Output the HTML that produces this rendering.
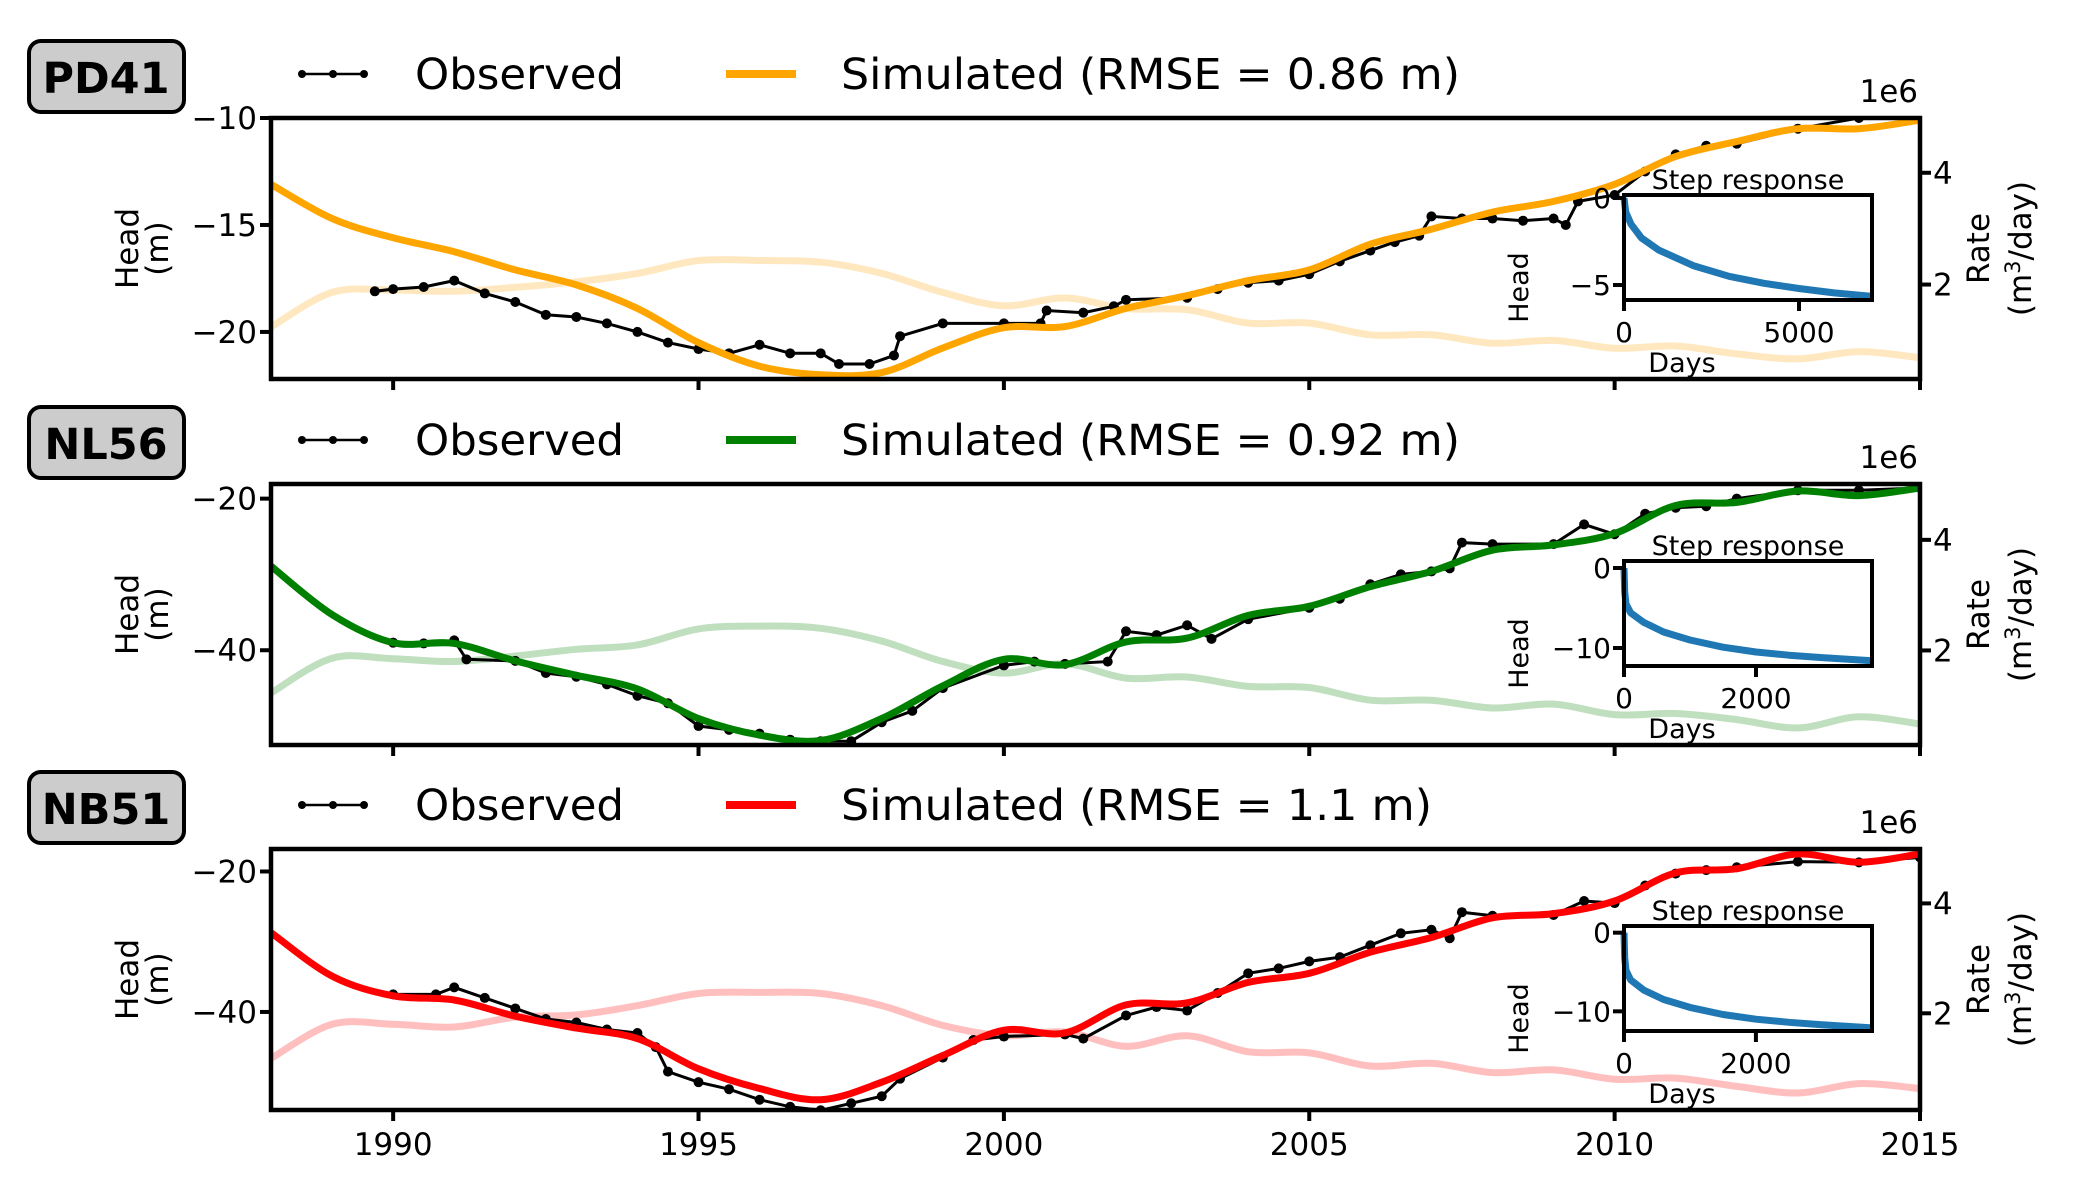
<!DOCTYPE html>
<html><head><meta charset="utf-8">
<style>
html,body{margin:0;padding:0;background:#fff;}
svg{display:block;font-family:"DejaVu Sans","Liberation Sans",sans-serif;}
</style></head>
<body>
<svg id="fig" xmlns="http://www.w3.org/2000/svg" width="2083" height="1204" viewBox="0 0 2083 1204"></svg>
<script>
// ---------- data ----------
const years = [1988,1989,1990,1991,1992,1993,1994,1995,1996,1997,1998,1999,2000,2001,2002,2003,2004,2005,2006,2007,2008,2009,2010,2011,2012,2013,2014,2015];
const xTicks = [1990,1995,2000,2005,2010,2015];

const simPD41 = [-13.1,-14.7,-15.6,-16.25,-17.1,-17.8,-18.9,-20.5,-21.6,-22.0,-21.9,-20.75,-19.8,-19.75,-18.9,-18.3,-17.6,-17.1,-15.9,-15.2,-14.4,-13.9,-13.1,-11.8,-11.1,-10.5,-10.5,-10.1];
const ratePD41 = [1.24,1.86,1.9,1.88,1.95,2.05,2.2,2.43,2.43,2.4,2.2,1.86,1.62,1.76,1.57,1.55,1.31,1.31,1.1,1.1,0.95,1.0,0.86,0.9,0.76,0.67,0.8,0.69];
const obsYearsPD41 = [1989.7,1990,1990.5,1991,1991.5,1992,1992.5,1993,1993.5,1994,1994.5,1995,1995.5,1996,1996.5,1997,1997.3,1997.8,1998.2,1998.3,1999,2000,2000.6,2000.7,2001.3,2001.8,2002,2003,2003.5,2004,2004.5,2005,2005.5,2006,2006.4,2006.8,2007,2007.5,2008,2008.5,2009,2009.2,2009.4,2010,2010.5,2011,2011.5,2012,2013,2014,2015];
const obsPD41 = [-18.1,-18.0,-17.9,-17.6,-18.2,-18.6,-19.2,-19.3,-19.6,-20.0,-20.5,-20.8,-21.0,-20.6,-21.0,-21.0,-21.5,-21.5,-21.1,-20.2,-19.6,-19.6,-19.6,-19.0,-19.1,-18.8,-18.5,-18.4,-18.0,-17.7,-17.6,-17.3,-16.7,-16.2,-15.8,-15.5,-14.6,-14.7,-14.7,-14.8,-14.7,-15.0,-13.9,-13.6,-12.5,-11.7,-11.3,-11.2,-10.5,-10.0,-10.0];
const stepDaysPD41 = [0,50,200,500,1000,2000,3000,4000,5000,6000,7086];
const stepPD41 = [0,-0.8,-1.5,-2.3,-3.0,-3.9,-4.5,-4.9,-5.2,-5.45,-5.65];

const simNL56 = [-28.9,-35.3,-39,-39.1,-41.4,-43.3,-45.1,-49,-51.2,-51.9,-49,-44.7,-41.2,-41.9,-38.9,-38.4,-35.4,-34.2,-31.6,-29.6,-26.8,-26.1,-24.6,-20.9,-20.5,-19,-19.6,-18.6];
const rateNL56 = [1.23,1.86,1.85,1.8,1.9,2.02,2.1,2.39,2.44,2.4,2.17,1.8,1.59,1.76,1.5,1.52,1.35,1.33,1.1,1.1,0.96,1.03,0.84,0.86,0.75,0.6,0.8,0.67];
const obsYearsNL56 = [1990,1990.5,1991,1991.2,1992,1992.5,1993,1993.5,1994,1994.5,1995,1995.5,1996,1996.5,1997,1997.5,1998,1998.5,1999,2000,2000.5,2001,2001.7,2002,2002.5,2003,2003.4,2004,2005,2005.5,2006,2006.5,2007,2007.3,2007.5,2008,2009,2009.5,2010,2010.5,2011,2011.5,2012,2013,2014,2015];
const obsNL56 = [-39,-39.1,-38.7,-41.2,-41.4,-43,-43.5,-44.5,-46,-47,-50,-50.5,-51,-51.8,-52,-52,-49.5,-48,-45,-42,-41.5,-41.8,-41.5,-37.5,-38,-36.7,-38.5,-35.9,-34.4,-33.2,-31.3,-30,-29.6,-29.2,-25.8,-26,-26,-23.4,-24.7,-22,-21.2,-21,-20,-18.9,-18.9,-18.6];
const stepDaysNL56 = [0,10,30,100,300,600,1000,1500,2000,2500,3000,3758];
const stepNL56 = [0,-3,-4.5,-5.6,-6.8,-8.0,-9.0,-9.9,-10.5,-10.9,-11.2,-11.6];

const simNB51 = [-28.7,-34.9,-37.7,-38.3,-40.6,-42.3,-43.8,-48.1,-50.9,-52.5,-50,-46.2,-42.6,-43,-39,-38.7,-35.8,-34.5,-31.5,-29.4,-26.6,-26,-24.2,-20.2,-19.6,-17.5,-18.7,-17.5];
const rateNB51 = [1.18,1.8,1.8,1.75,1.93,1.97,2.14,2.36,2.38,2.36,2.14,1.78,1.59,1.66,1.4,1.59,1.3,1.28,1.04,1.09,0.92,0.97,0.8,0.82,0.67,0.55,0.72,0.63];
const obsYearsNB51 = [1990,1990.7,1991,1991.5,1992,1992.5,1993,1993.5,1994,1994.3,1994.5,1995,1995.5,1996,1996.5,1997,1997.5,1998,1998.3,1999,1999.5,2000,2001,2001.3,2002,2002.5,2003,2003.5,2004,2004.5,2005,2005.5,2006,2006.5,2007,2007.3,2007.5,2008,2009,2009.5,2010,2010.5,2011,2011.5,2012,2013,2014,2015];
const obsNB51 = [-37.5,-37.5,-36.5,-38,-39.5,-41,-41.5,-42.5,-43,-45,-48.5,-50,-51,-52.5,-53.5,-54,-53,-52,-49.5,-46.5,-44,-43.5,-43.2,-43.8,-40.5,-39.3,-39.8,-37.3,-34.5,-33.8,-32.8,-32.2,-30.5,-28.8,-28.3,-29.5,-25.8,-26.3,-26.2,-24.2,-24.5,-22,-20.3,-19.8,-19.4,-18.6,-18.7,-18];
const stepDaysNB51 = [0,10,30,100,300,600,1000,1500,2000,2500,3000,3760];
const stepNB51 = [0,-3.2,-4.8,-6.0,-7.3,-8.5,-9.5,-10.4,-11.0,-11.4,-11.7,-12.1];

const panels = [
 {name:'PD41', color:'#FFA500', label:'Simulated (RMSE = 0.86 m)', simLen:619, top:118, yMin:-22.2, yMax:-10, yTicks:[-10,-15,-20], sim:simPD41, rate:ratePD41, oy:obsYearsPD41, ov:obsPD41, sd:stepDaysPD41, sv:stepPD41, iyMin:-5.86, iyMax:0.17, iyTicks:[0,-5], ixMax:7086, ixTicks:[0,5000], rMin:0.31, rMax:4.98},
 {name:'NL56', color:'#008000', label:'Simulated (RMSE = 0.92 m)', simLen:619, top:484, yMin:-52.5, yMax:-18.07, yTicks:[-20,-40], sim:simNL56, rate:rateNL56, oy:obsYearsNL56, ov:obsNL56, sd:stepDaysNL56, sv:stepNL56, iyMin:-12.25, iyMax:0.875, iyTicks:[0,-10], ixMax:3758, ixTicks:[0,2000], rMin:0.29, rMax:5.01},
 {name:'NB51', color:'#FF0000', label:'Simulated (RMSE = 1.1 m)', simLen:591, top:849, yMin:-53.96, yMax:-16.8, yTicks:[-20,-40], sim:simNB51, rate:rateNB51, oy:obsYearsNB51, ov:obsNB51, sd:stepDaysNB51, sv:stepNB51, iyMin:-12.5, iyMax:0.85, iyTicks:[0,-10], ixMax:3760, ixTicks:[0,2000], rMin:0.24, rMax:4.99}
];

// ---------- drawing ----------
const NS='http://www.w3.org/2000/svg';
const svg=document.getElementById('fig');
function el(tag, attrs, parent, text){
  const e=document.createElementNS(NS,tag);
  for(const k in attrs) e.setAttribute(k,attrs[k]);
  if(text!==undefined) e.textContent=text;
  (parent||svg).appendChild(e);
  return e;
}
const L=271, R=1920, H=261;
const X0=1988, X1=2015;
const FS=31;
function xs(v){return L+(v-X0)/(X1-X0)*(R-L);}
function smoothPath(pts){
  let d='M'+pts[0][0].toFixed(1)+','+pts[0][1].toFixed(1);
  for(let i=0;i<pts.length-1;i++){
    const p0=pts[Math.max(0,i-1)],p1=pts[i],p2=pts[i+1],p3=pts[Math.min(pts.length-1,i+2)];
    const c1=[p1[0]+(p2[0]-p0[0])/6,p1[1]+(p2[1]-p0[1])/6];
    const c2=[p2[0]-(p3[0]-p1[0])/6,p2[1]-(p3[1]-p1[1])/6];
    d+='C'+c1[0].toFixed(1)+','+c1[1].toFixed(1)+' '+c2[0].toFixed(1)+','+c2[1].toFixed(1)+' '+p2[0].toFixed(1)+','+p2[1].toFixed(1);
  }
  return d;
}

panels.forEach((p,pi)=>{
  const T=p.top, B=T+H;
  const g=el('g',{});
  
  
  const ys=v=>B-(v-p.yMin)/(p.yMax-p.yMin)*H;
  const rs=v=>B-(v-p.rMin)/(p.rMax-p.rMin)*H;

  const bx=el('rect',{x:29,y:T-77,width:155,height:71,rx:12,ry:12,fill:'#cccccc',stroke:'#000','stroke-width':4},g);
  
  
  const bt=el('text',{x:106,y:T-25,'text-anchor':'middle','font-size':43,'font-weight':'bold'},g,p.name);
  
  

  const lg=el('g',{},g);
  
  
  const ly=T-44;
  el('line',{x1:302,y1:ly,x2:364,y2:ly,stroke:'#000','stroke-width':2.5},lg);
  [302,333,364].forEach(cx=>el('circle',{cx:cx,cy:ly,r:4,fill:'#000'},lg));
  const lo=el('text',{x:415,y:T-29,'font-size':43,textLength:209,lengthAdjust:'spacingAndGlyphs'},lg,'Observed');
  
  
  el('line',{x1:726,y1:ly,x2:796,y2:ly,stroke:p.color,'stroke-width':8},lg);
  const ls=el('text',{x:841,y:T-29,'font-size':43,textLength:p.simLen,lengthAdjust:'spacingAndGlyphs'},lg,p.label);
  
  

  const cp=el('clipPath',{id:'clip'+pi},g);
  el('rect',{x:L,y:T,width:R-L,height:H},cp);
  const plot=el('g',{'clip-path':'url(#clip'+pi+')'},g);

  const rl=el('path',{d:smoothPath(years.map((y,i)=>[xs(y),rs(p.rate[i])])),fill:'none',stroke:p.color,'stroke-opacity':0.25,'stroke-width':7},plot);
  
  
  const op=el('polyline',{points:p.oy.map((y,i)=>xs(y).toFixed(1)+','+ys(p.ov[i]).toFixed(1)).join(' '),fill:'none',stroke:'#000','stroke-width':3},plot);
  
  
  p.oy.forEach((y,i)=>{
    const c=el('circle',{cx:xs(y),cy:ys(p.ov[i]),r:5,fill:'#000'},plot);
    
    
  });
  const sl=el('path',{d:smoothPath(years.map((y,i)=>[xs(y),ys(p.sim[i])])),fill:'none',stroke:p.color,'stroke-width':7},plot);
  
  

  const fr=el('rect',{x:L,y:T,width:R-L,height:H,fill:'none',stroke:'#000','stroke-width':4.5},g);
  
  

  p.yTicks.forEach(t=>{
    const y=ys(t);
    el('line',{x1:L-11,y1:y,x2:L,y2:y,stroke:'#000','stroke-width':4},g);
    const tl=el('text',{x:L-14,y:y+11,'text-anchor':'end','font-size':FS},g,'\u2212'+Math.abs(t));
    
    
  });
  const cy=T+H/2;
  const yl=el('text',{transform:'translate(138,'+cy+') rotate(-90)','text-anchor':'middle','font-size':FS},g,'Head');
  
  
  el('text',{transform:'translate(168,'+cy+') rotate(-90)','text-anchor':'middle','font-size':FS},g,'(m)');

  [2,4].forEach(t=>{
    const y=rs(t);
    el('line',{x1:R,y1:y,x2:R+11,y2:y,stroke:'#000','stroke-width':4},g);
    const tl=el('text',{x:R+13,y:y+11,'font-size':FS},g,String(t));
    
    
  });
  const e6=el('text',{x:1918,y:T-16,'text-anchor':'end','font-size':FS},g,'1e6');
  
  
  const rt=el('text',{transform:'translate(1989,'+cy+') rotate(-90)','text-anchor':'middle','font-size':FS},g,'Rate');
  
  
  const rt2=el('text',{transform:'translate(2031,'+cy+') rotate(-90)','text-anchor':'middle','font-size':FS},g);
  el('tspan',{},rt2,'(m');
  el('tspan',{dy:-11,'font-size':21},rt2,'3');
  el('tspan',{dy:11},rt2,'/day)');

  const IL=1624, IR=1872, IT=T+77, IB=T+182;
  const ig=el('g',{},g);
  
  
  const ixs=v=>IL+v/p.ixMax*(IR-IL);
  const iys=v=>IB-(v-p.iyMin)/(p.iyMax-p.iyMin)*(IB-IT);
  el('rect',{x:IL,y:IT,width:IR-IL,height:IB-IT,fill:'#fff'},ig);
  const sc=el('polyline',{points:p.sd.map((d,i)=>ixs(d).toFixed(1)+','+iys(p.sv[i]).toFixed(1)).join(' '),fill:'none',stroke:'#1f77b4','stroke-width':7,'stroke-linejoin':'round'},ig);
  
  
  el('rect',{x:IL,y:IT,width:IR-IL,height:IB-IT,fill:'none',stroke:'#000','stroke-width':4},ig);
  p.iyTicks.forEach(t=>{
    const y=iys(t);
    el('line',{x1:IL-11,y1:y,x2:IL,y2:y,stroke:'#000','stroke-width':4},ig);
    el('text',{x:IL-13,y:y+10,'text-anchor':'end','font-size':28},ig,t===0?'0':'\u2212'+Math.abs(t));
  });
  p.ixTicks.forEach(t=>{
    const x=ixs(t);
    el('line',{x1:x,y1:IB,x2:x,y2:IB+11,stroke:'#000','stroke-width':4},ig);
    el('text',{x:x,y:IB+42,'text-anchor':'middle','font-size':28},ig,String(t));
  });
  el('text',{x:1748,y:IT-6,'text-anchor':'middle','font-size':27},ig,'Step response');
  el('text',{x:1682,y:IB+72,'text-anchor':'middle','font-size':27},ig,'Days');
  el('text',{transform:'translate(1528,'+((IT+IB)/2+40)+') rotate(-90)','text-anchor':'middle','font-size':27},ig,'Head');

  xTicks.forEach(t=>{
    const x=xs(t);
    el('line',{x1:x,y1:B,x2:x,y2:B+11,stroke:'#000','stroke-width':4},g);
    if(pi===2){
      const xl=el('text',{x:x,y:B+45,'text-anchor':'middle','font-size':FS},g,String(t));
      
      
    }
  });
});
</script>
</body></html>
